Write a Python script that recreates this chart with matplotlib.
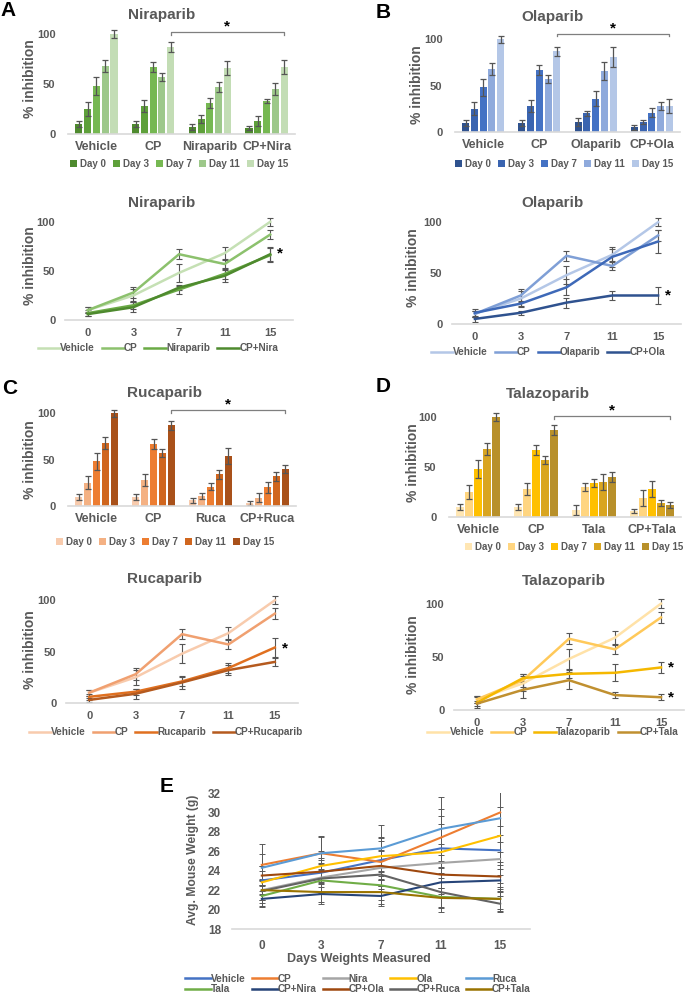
import matplotlib
matplotlib.use("Agg")
import matplotlib.pyplot as plt
from matplotlib.lines import Line2D
import numpy as np

plt.rcParams['font.family'] = ['Liberation Sans', 'DejaVu Sans']
plt.rcParams['font.weight'] = 'bold'

# %%
# data: % inhibition, groups x days
days = ['Day 0', 'Day 3', 'Day 7', 'Day 11', 'Day 15']
day_ticks = ['0', '3', '7', '11', '15']

vehicle = [10, 25, 48, 68, 100]
vehicle_err = [3, 7, 9, 6, 4]
cp = [10, 28, 67, 57, 87]
cp_err = [3, 6, 5, 4, 5]

nira = [7, 15, 31, 47, 66]
nira_err = [3, 4, 5, 5, 7]
cp_nira = [6, 13, 33, 45, 67]
cp_nira_err = [2, 5, 2, 6, 7]

ola = [11, 20, 36, 66, 81]
ola_err = [4, 3, 8, 10, 11]
cp_ola = [5, 11, 21, 28, 28]
cp_ola_err = [3, 2, 5, 4, 8]

ruca = [6, 11, 21, 34, 54]
ruca_err = [3, 3, 4, 5, 9]
cp_ruca = [3, 9, 20, 32, 40]
cp_ruca_err = [2, 5, 6, 5, 4]

tala = [7, 30, 34, 35, 40]
tala_err = [5, 4, 4, 8, 5]
cp_tala = [6, 19, 28, 14, 12]
cp_tala_err = [2, 8, 8, 3, 3]

# mouse weights (g)
weight_names = ['Vehicle', 'CP', 'Nira', 'Ola', 'Ruca',
                'Tala', 'CP+Nira', 'CP+Ola', 'CP+Ruca', 'CP+Tala']
w_vehicle = [23.0, 23.8, 25.1, 26.3, 26.1]
w_cp = [24.6, 25.8, 24.9, 27.4, 30.0]
w_nira = [22.0, 23.3, 24.3, 24.8, 25.2]
w_ola = [22.8, 24.5, 25.5, 25.9, 27.6]
w_ruca = [24.3, 25.8, 26.3, 28.3, 29.4]
w_tala = [21.4, 23.0, 22.5, 21.3, 21.1]
w_cp_nira = [21.1, 21.6, 21.4, 22.8, 23.0]
w_cp_ola = [23.5, 23.9, 24.5, 23.6, 23.4]
w_cp_ruca = [21.9, 23.2, 23.6, 21.8, 20.6]
w_cp_tala = [22.0, 21.8, 21.8, 21.2, 21.1]
w_err = [[1.5, 1.5, 2.0, 2.5, 2.5],
         [2.1, 1.8, 2.5, 3.0, 3.0],
         [1.0, 1.5, 1.8, 2.0, 2.5],
         [1.2, 1.5, 2.0, 3.7, 3.0],
         [1.4, 1.7, 2.4, 3.3, 3.5],
         [1.0, 1.2, 1.5, 1.5, 1.2],
         [0.8, 1.0, 1.0, 1.5, 1.2],
         [1.0, 1.2, 1.5, 2.0, 1.5],
         [1.2, 1.5, 1.5, 1.5, 0.8],
         [1.0, 1.0, 1.2, 1.0, 1.0]]

# %%
W, H = 688, 994
fig = plt.figure(figsize=(6.88, 9.94), dpi=100)
TXT = '#595959'
ERR = '#555555'


def box(l, t, r, b):
    return [l / W, 1 - b / H, (r - l) / W, (b - t) / H]


def ftext(x, y, s, **kw):
    fig.text(x / W, 1 - y / H, s, ha='center', va='center', **kw)


def style(ax):
    for s in ['top', 'right', 'left']:
        ax.spines[s].set_visible(False)
    ax.spines['bottom'].set_color('#D9D9D9')
    ax.spines['bottom'].set_linewidth(1.2)
    ax.tick_params(length=0, colors=TXT)


def bar_panel(pos, groups, vals, errs, colors, title, tpos, ylab_x,
              ylab_y, leg_y, leg_x, yb):
    ax = fig.add_axes(box(*pos))
    style(ax)
    x = np.arange(len(groups))
    for i in range(5):
        off = (i - 2) * 0.155
        ax.bar(x + off, [v[i] for v in vals], 0.125, color=colors[i],
               label=days[i], yerr=[e[i] for e in errs],
               error_kw=dict(ecolor=ERR, elinewidth=0.9, capsize=2,
                             capthick=0.9))
    ax.set_xlim(-0.5, len(groups) - 0.5)
    ax.set_ylim(0, 110)
    ax.set_yticks([0, 50, 100])
    ax.set_xticks(x)
    ax.set_xticklabels(groups, fontsize=9, fontweight='bold')
    ax.tick_params(axis='x', pad=5)
    ax.tick_params(axis='y', labelsize=8, pad=9)
    # significance bracket CP vs combination
    xs = [1 + 2 * 0.155, 3 + 2 * 0.155]
    ax.plot([xs[0], xs[0], xs[1], xs[1]], [yb - 3, yb, yb, yb - 3],
            color='#7F7F7F', lw=0.9, clip_on=False)
    ax.text(np.mean(xs), yb + 6, '*', ha='center', va='center',
            fontsize=11, color='black', clip_on=False)
    ftext(tpos[0], tpos[1], title, fontsize=11, color=TXT, fontweight='bold')
    ftext(ylab_x, ylab_y, '% inhibition', fontsize=10, color=TXT,
          fontweight='bold', rotation=90)
    h, l = ax.get_legend_handles_labels()
    fig.legend(h, l, loc='center', bbox_to_anchor=(leg_x / W, 1 - leg_y / H),
               ncol=5, frameon=False, handlelength=0.7,
               handleheight=0.7, handletextpad=0.3, columnspacing=0.75,
               labelcolor=TXT, prop=dict(weight='bold', size=7))
    return ax


def line_panel(pos, names, vals, errs, colors, title, tpos, ylab_x, ylab_y,
               leg_y, leg_x, stars):
    ax = fig.add_axes(box(*pos))
    style(ax)
    x = np.arange(5)
    for v, e, c, n in zip(vals, errs, colors, names):
        ax.errorbar(x, v, yerr=e, color=c, lw=1.8, label=n,
                    ecolor=ERR, elinewidth=0.8, capsize=2, capthick=0.8)
    ax.set_xlim(-0.5, 4.5)
    ax.set_ylim(0, 110)
    ax.set_yticks([0, 50, 100])
    ax.set_xticks(x)
    ax.set_xticklabels(day_ticks, fontsize=8, fontweight='bold')
    ax.tick_params(axis='y', labelsize=8, pad=7)
    ax.tick_params(axis='x', pad=6)
    for sv in stars:
        ax.text(4.22, sv, '*', ha='center', va='center', fontsize=11,
                color='black', clip_on=False)
    ftext(tpos[0], tpos[1], title, fontsize=11, color=TXT, fontweight='bold')
    ftext(ylab_x, ylab_y, '% inhibition', fontsize=10, color=TXT,
          fontweight='bold', rotation=90)
    h = [Line2D([], [], color=c, lw=1.8) for c in colors]
    fig.legend(h, names, loc='center', bbox_to_anchor=(leg_x / W, 1 - leg_y / H),
               ncol=4, frameon=False, handlelength=2.2, handletextpad=0.0,
               columnspacing=0.7, labelcolor=TXT,
               prop=dict(weight='bold', size=7.2))
    return ax


# %%
# A - Niraparib
greens = ['#4E8A2E', '#5EA03A', '#76B852', '#9DC88A', '#C3DDB5']
bar_panel((68, 24, 295, 134), ['Vehicle', 'CP', 'Niraparib', 'CP+Nira'],
          [vehicle, cp, nira, cp_nira],
          [vehicle_err, cp_err, nira_err, cp_nira_err], greens,
          'Niraparib', (162, 15), 30, 79, 164, 179, 102)
line_panel((65, 212, 293, 320), ['Vehicle', 'CP', 'Niraparib', 'CP+Nira'],
           [vehicle, cp, nira, cp_nira],
           [vehicle_err, cp_err, nira_err, cp_nira_err],
           ['#C5E0B4', '#8CC16D', '#6AAA45', '#4E8A2E'],
           'Niraparib', (162, 203), 30, 266, 348, 158, [68])

# B - Olaparib
blues = ['#2F528F', '#3A64B0', '#4472C4', '#8FAADC', '#B4C7E7']
bar_panel((455, 30, 680, 132), ['Vehicle', 'CP', 'Olaparib', 'CP+Ola'],
          [vehicle, cp, ola, cp_ola],
          [vehicle_err, cp_err, ola_err, cp_ola_err], blues,
          'Olaparib', (552, 17), 417, 85, 164, 564, 106)
line_panel((452, 212, 681, 324), ['Vehicle', 'CP', 'Olaparib', 'CP+Ola'],
           [vehicle, cp, ola, cp_ola],
           [vehicle_err, cp_err, ola_err, cp_ola_err],
           ['#B4C7E7', '#7F9FD6', '#3E69B8', '#2F528F'],
           'Olaparib', (553, 203), 413, 268, 352, 548, [28])

# C - Rucaparib
oranges = ['#F8CBAD', '#F4B183', '#ED7D31', '#D0661E', '#A9511A']
bar_panel((68, 404, 296, 506), ['Vehicle', 'CP', 'Ruca', 'CP+Ruca'],
          [vehicle, cp, ruca, cp_ruca],
          [vehicle_err, cp_err, ruca_err, cp_ruca_err], oranges,
          'Rucaparib', (165, 393), 30, 460, 542, 165, 103)
line_panel((66, 590, 298, 703), ['Vehicle', 'CP', 'Rucaparib', 'CP+Rucaparib'],
           [vehicle, cp, ruca, cp_ruca],
           [vehicle_err, cp_err, ruca_err, cp_ruca_err],
           ['#F8CBAD', '#F0A070', '#E07020', '#B55A1E'],
           'Rucaparib', (165, 579), 30, 650, 732, 166, [53])

# D - Talazoparib
golds = ['#FFE6B3', '#FFD580', '#FFC000', '#D9A520', '#B8902A']
bar_panel((449, 407, 681, 517), ['Vehicle', 'CP', 'Tala', 'CP+Tala'],
          [vehicle, cp, tala, cp_tala],
          [vehicle_err, cp_err, tala_err, cp_tala_err], golds,
          'Talazoparib', (548, 394), 413, 463, 547, 574, 101)
line_panel((454, 593, 684, 710), ['Vehicle', 'CP', 'Talazoparib', 'CP+Tala'],
           [vehicle, cp, tala, cp_tala],
           [vehicle_err, cp_err, tala_err, cp_tala_err],
           ['#FFE2A8', '#FFC95A', '#F5B800', '#C09030'],
           'Talazoparib', (564, 581), 413, 655, 732, 553, [40, 12])

# %%
# E - mouse weights
ax = fig.add_axes(box(232, 793, 530, 929))
style(ax)
weights = [w_vehicle, w_cp, w_nira, w_ola, w_ruca,
           w_tala, w_cp_nira, w_cp_ola, w_cp_ruca, w_cp_tala]
wcolors = ['#4472C4', '#ED7D31', '#A5A5A5', '#FFC000', '#5B9BD5',
           '#70AD47', '#264478', '#9E480E', '#636363', '#997300']
x = np.arange(5)
for w, e, c, n in zip(weights, w_err, wcolors, weight_names):
    ax.errorbar(x, w, yerr=e, color=c, lw=1.5, label=n, ecolor='#595959',
                elinewidth=0.7, capsize=2, capthick=0.7)
ax.set_xlim(-0.5, 4.5)
ax.set_ylim(18, 32)
ax.set_yticks(range(18, 33, 2))
ax.set_xticks(x)
ax.set_xticklabels(day_ticks, fontsize=8.5, fontweight='bold')
ax.tick_params(axis='y', labelsize=8.5, pad=8)
ax.tick_params(axis='x', pad=8)
ftext(359, 959, 'Days Weights Measured', fontsize=9, color=TXT,
      fontweight='bold')
ftext(193, 860, 'Avg. Mouse Weight (g)', fontsize=8.7, color=TXT,
      fontweight='bold', rotation=90)
h = [Line2D([], [], color=c, lw=1.8) for c in wcolors]
order = [0, 5, 1, 6, 2, 7, 3, 8, 4, 9]
fig.legend([h[i] for i in order], [weight_names[i] for i in order],
           loc='center', bbox_to_anchor=(358 / W, 1 - 984 / H), ncol=5,
           frameon=False, handlelength=2.6, handletextpad=0.0,
           columnspacing=0.6, labelspacing=0.05, labelcolor=TXT,
           prop=dict(weight='bold', size=7.2))

# panel letters
for letter, (px, py) in zip('ABCDE', [(8, 10), (383, 12), (10, 388),
                                      (383, 387), (167, 787)]):
    ftext(px, py, letter, fontsize=15, fontweight='bold', color='black')

fig.savefig('out.png', dpi=100)
